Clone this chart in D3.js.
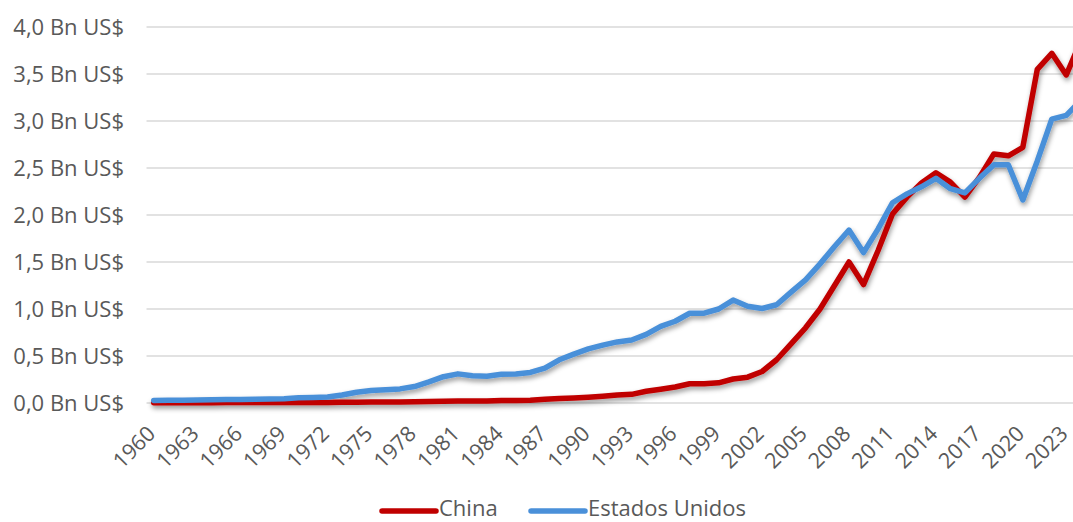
<!DOCTYPE html>
<html>
<head>
<meta charset="utf-8">
<script src="https://cdn.jsdelivr.net/npm/d3@7"></script>
<style>
  body { margin: 0; background: #fff; }
  svg { display: block; font-family: "Open Sans", sans-serif; }
</style>
</head>
<body>
<div id="chart"></div>
<script>
// exports of goods and services, billones (10^12) US$
var years = d3.range(1960, 2025);
var china = [
  0.003, 0.003, 0.003, 0.003, 0.003, 0.004, 0.004, 0.004, 0.004, 0.004,
  0.005, 0.005, 0.006, 0.008, 0.009, 0.010, 0.010, 0.011, 0.012, 0.015,
  0.019, 0.022, 0.022, 0.022, 0.026, 0.027, 0.030, 0.039, 0.047, 0.053,
  0.062, 0.072, 0.085, 0.092, 0.125, 0.147, 0.170, 0.205, 0.205, 0.215,
  0.255, 0.275, 0.335, 0.460, 0.630, 0.800, 1.000, 1.250, 1.500, 1.260,
  1.620, 2.010, 2.190, 2.340, 2.450, 2.350, 2.190, 2.400, 2.650, 2.630,
  2.720, 3.550, 3.720, 3.490, 3.850
];
var usa = [
  0.027, 0.028, 0.029, 0.031, 0.034, 0.036, 0.038, 0.040, 0.043, 0.046,
  0.055, 0.058, 0.064, 0.085, 0.115, 0.132, 0.142, 0.150, 0.175, 0.225,
  0.280, 0.310, 0.290, 0.285, 0.305, 0.308, 0.325, 0.370, 0.460, 0.520,
  0.575, 0.615, 0.650, 0.670, 0.730, 0.815, 0.870, 0.955, 0.955, 1.000,
  1.095, 1.030, 1.005, 1.045, 1.180, 1.310, 1.480, 1.665, 1.840, 1.600,
  1.850, 2.130, 2.225, 2.300, 2.390, 2.280, 2.235, 2.390, 2.535, 2.535,
  2.160, 2.575, 3.020, 3.060, 3.220
];
var seriesNames = ["China", "Estados Unidos"];
var seriesColors = ["#c00000", "#4a90d9"];
var yTicks = [0, 0.5, 1, 1.5, 2, 2.5, 3, 3.5, 4];
var xTicks = d3.range(1960, 2025, 3);

var width = 1073, height = 522;

var svg = d3.select("#chart").append("svg")
  .attr("width", width)
  .attr("height", height);

var defs = svg.append("defs");
var shadow = defs.append("filter")
  .attr("id", "shadow")
  .attr("x", "-5%").attr("y", "-20%")
  .attr("width", "110%").attr("height", "140%");
shadow.append("feDropShadow")
  .attr("dx", 1).attr("dy", 3)
  .attr("stdDeviation", 2.5)
  .attr("flood-color", "#000")
  .attr("flood-opacity", 0.4);

var x = d3.scaleLinear().domain([1959.5, 2024.5]).range([146.5, 1088]);
var y = d3.scaleLinear().domain([0, 4]).range([403, 27]);

// gridlines
svg.append("g").selectAll("line")
  .data(yTicks)
  .enter().append("line")
  .attr("x1", 146.5)
  .attr("x2", width)
  .attr("y1", function(d) { return y(d); })
  .attr("y2", function(d) { return y(d); })
  .style("stroke", "#d9d9d9")
  .style("stroke-width", 1.5);

// y axis labels
var yAxis = d3.axisLeft(y)
  .tickValues(yTicks)
  .tickSize(0)
  .tickPadding(0)
  .tickFormat(function(d) { return d3.format(".1f")(d).replace(".", ",") + " Bn US$"; });

svg.append("g")
  .attr("transform", "translate(124,0)")
  .call(yAxis)
  .call(function(g) { g.select(".domain").remove(); })
  .selectAll("text")
  .attr("font-family", "Open Sans, sans-serif")
  .attr("font-size", 22)
  .attr("fill", "#595959");

// x axis labels, rotated
svg.append("g").selectAll("text")
  .data(xTicks)
  .enter().append("text")
  .attr("transform", function(d) { return "translate(" + (x(d) + 3) + ",435) rotate(-45)"; })
  .attr("text-anchor", "end")
  .attr("font-size", 21.5)
  .attr("fill", "#595959")
  .text(function(d) { return d; });

var line = d3.line()
  .x(function(d, i) { return x(years[i]); })
  .y(function(d) { return y(d); });

var plot = svg.append("g").attr("filter", "url(#shadow)");
[china, usa].forEach(function(s, k) {
  plot.append("path")
    .attr("d", line(s))
    .attr("fill", "none")
    .attr("stroke", seriesColors[k])
    .attr("stroke-width", 5.5)
    .attr("stroke-linejoin", "round")
    .attr("stroke-linecap", "round");
});

// legend
var legendX = [380, 529];
var legend = svg.selectAll(".legend")
  .data(seriesNames)
  .enter().append("g")
  .attr("class", "legend")
  .attr("transform", function(d, i) { return "translate(" + legendX[i] + ",511)"; });

legend.append("line")
  .attr("x1", 2).attr("x2", 56)
  .attr("y1", 0).attr("y2", 0)
  .attr("stroke", function(d, i) { return seriesColors[i]; })
  .attr("stroke-width", 5.5)
  .attr("stroke-linecap", "round");

legend.append("text")
  .attr("x", 59)
  .attr("y", 5)
  .attr("font-size", 22)
  .attr("fill", "#595959")
  .text(function(d) { return d; });
</script>
</body>
</html>
